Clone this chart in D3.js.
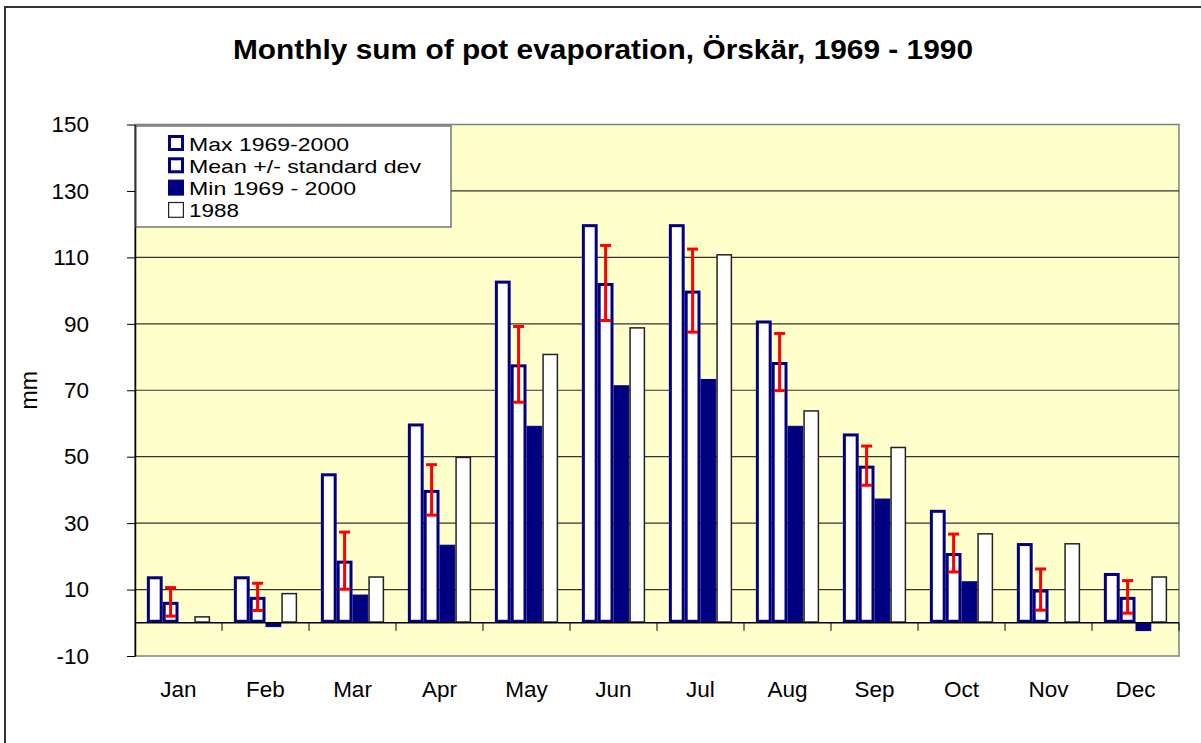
<!DOCTYPE html>
<html>
<head>
<meta charset="utf-8">
<script src="https://cdn.jsdelivr.net/npm/d3@7"></script>
<style>
  body { margin: 0; background: #fff; }
  svg { display: block; font-family: "Liberation Sans", Arial, sans-serif; }
</style>
</head>
<body>
<div id="chart"></div>
<script>
// Data
const months = ["Jan", "Feb", "Mar", "Apr", "May", "Jun", "Jul", "Aug", "Sep", "Oct", "Nov", "Dec"];
const maxVals = [14, 14, 45, 60, 103, 120, 120, 91, 57, 34, 24, 15];
const meanVals = [6.3, 7.8, 18.7, 40, 77.8, 102.3, 100, 78.5, 47.3, 21, 10, 7.8];
const stdDev = [4.3, 4.1, 8.6, 7.6, 11.4, 11.3, 12.5, 8.6, 5.9, 5.7, 6.2, 4.9];
const minVals = [0, -1.3, 8.5, 23.5, 59.3, 71.5, 73.4, 59.3, 37.4, 12.5, 0, -2.5];
const vals1988 = [2, 9, 14, 50, 81, 89, 111, 64, 53, 27, 24, 14];
const yTicks = [-10, 10, 30, 50, 70, 90, 110, 130, 150];
const seriesNames = ["Max 1969-2000", "Mean +/- standard dev", "Min 1969 - 2000", "1988"];

const width = 1201, height = 743;
const plot = { left: 135, right: 1179, top: 124.5, bottom: 656 };
const navy = "#000080";

const svg = d3.select("#chart")
  .append("svg")
  .attr("width", width)
  .attr("height", height);

// Outer frame
svg.append("rect")
  .attr("x", 5).attr("y", 7)
  .attr("width", width + 10).attr("height", height + 10)
  .attr("fill", "none")
  .attr("stroke", "#333")
  .attr("stroke-width", 2);

// Title
svg.append("text")
  .attr("x", 233).attr("y", 59)
  .attr("font-size", 27)
  .attr("font-weight", "bold")
  .attr("textLength", 740)
  .attr("lengthAdjust", "spacingAndGlyphs")
  .text("Monthly sum of pot evaporation, Örskär, 1969 - 1990");

// Scales
const x = d3.scaleBand()
  .domain(months)
  .range([plot.left, plot.right])
  .padding(0);

const y = d3.scaleLinear()
  .domain([-10, 150])
  .range([plot.bottom, plot.top]);

// Bars take 4 / 5.5 of each band (Excel gap width 150%)
const barW = x.bandwidth() / 5.5;
const inner = d3.scaleBand()
  .domain(d3.range(4))
  .range([0.75 * barW, 4.75 * barW])
  .padding(0);

// Plot background
svg.append("rect")
  .attr("x", plot.left).attr("y", plot.top)
  .attr("width", plot.right - plot.left)
  .attr("height", plot.bottom - plot.top)
  .attr("fill", "#FFFFCC")
  .attr("stroke", "#808080")
  .attr("stroke-width", 1.5);

// Gridlines
svg.append("g")
  .selectAll("line")
  .data(yTicks.filter(t => t > -10 && t < 150))
  .join("line")
  .attr("x1", plot.left).attr("x2", plot.right)
  .attr("y1", d => y(d)).attr("y2", d => y(d))
  .attr("stroke", "#333")
  .attr("stroke-width", 1.2);

// Bars
const series = [
  { values: maxVals, fill: "#fff", stroke: navy, sw: 3 },
  { values: meanVals, fill: "#fff", stroke: navy, sw: 3 },
  { values: minVals, fill: navy, stroke: navy, sw: 1 },
  { values: vals1988, fill: "#fff", stroke: "#222", sw: 1.5 }
];

series.forEach((s, i) => {
  svg.append("g")
    .selectAll("rect")
    .data(months.map((m, j) => ({ month: m, value: s.values[j] })))
    .join("rect")
    .attr("x", d => x(d.month) + inner(i) + s.sw / 2)
    .attr("width", inner.bandwidth() - s.sw)
    .attr("y", d => Math.min(y(d.value), y(0)) + s.sw / 2)
    .attr("height", d => Math.max(0, Math.abs(y(d.value) - y(0)) - s.sw))
    .attr("fill", s.fill)
    .attr("stroke", d => d.value === 0 ? "none" : s.stroke)
    .attr("stroke-width", s.sw);
});

// Error bars on the mean
const errG = svg.append("g")
  .attr("stroke", "#FF0000")
  .attr("stroke-width", 3);

months.forEach((m, j) => {
  const cx = x(m) + inner(1) + inner.bandwidth() / 2;
  const hi = y(meanVals[j] + stdDev[j]);
  const lo = y(meanVals[j] - stdDev[j]);
  errG.append("line").attr("x1", cx).attr("x2", cx).attr("y1", hi).attr("y2", lo);
  errG.append("line").attr("x1", cx - 5.5).attr("x2", cx + 5.5).attr("y1", hi).attr("y2", hi);
  errG.append("line").attr("x1", cx - 5.5).attr("x2", cx + 5.5).attr("y1", lo).attr("y2", lo);
});

// Y axis
const yAxis = svg.append("g")
  .attr("transform", `translate(${plot.left},0)`)
  .call(d3.axisLeft(y).tickValues(yTicks).tickFormat(d => String(d))
    .tickSize(8).tickPadding(38).tickSizeOuter(0));
yAxis.select(".domain").attr("stroke", "#000").attr("stroke-width", 1.5);
yAxis.selectAll(".tick line").attr("stroke", "#000");
yAxis.selectAll(".tick text")
  .attr("font-size", 22.5)
  .attr("font-family", "Liberation Sans, Arial, sans-serif")
  .attr("fill", "#000");

// X axis at zero, ticks on category boundaries
svg.append("line")
  .attr("x1", plot.left).attr("x2", plot.right)
  .attr("y1", y(0)).attr("y2", y(0))
  .attr("stroke", "#000")
  .attr("stroke-width", 1.5);

svg.append("g")
  .selectAll("line")
  .data(months.slice(1).map(m => x(m)).concat([plot.right]))
  .join("line")
  .attr("x1", d => d).attr("x2", d => d)
  .attr("y1", y(0)).attr("y2", y(0) + 8)
  .attr("stroke", "#000");

svg.append("g")
  .selectAll("text")
  .data(months)
  .join("text")
  .attr("x", d => x(d) + x.bandwidth() / 2)
  .attr("y", 697)
  .attr("text-anchor", "middle")
  .attr("font-size", 22.5)
  .text(d => d);

// Y label
svg.append("text")
  .attr("transform", `translate(37,${(plot.top + plot.bottom) / 2}) rotate(-90)`)
  .attr("text-anchor", "middle")
  .attr("font-size", 23)
  .text("mm");

// Legend
const legend = svg.append("g").attr("transform", "translate(136,126)");
legend.append("rect")
  .attr("width", 315).attr("height", 101)
  .attr("fill", "#fff")
  .attr("stroke", "#555")
  .attr("stroke-width", 1.2);

const legendKeys = [
  { fill: "#fff", stroke: navy, sw: 3, len: 160 },
  { fill: "#fff", stroke: navy, sw: 3, len: 232 },
  { fill: navy, stroke: navy, sw: 1, len: 167 },
  { fill: "#fff", stroke: "#222", sw: 1.2, len: 50 }
];

seriesNames.forEach((name, i) => {
  const row = legend.append("g").attr("transform", `translate(32,${9 + i * 22.3})`);
  const k = legendKeys[i];
  row.append("rect")
    .attr("x", k.sw / 2).attr("y", k.sw / 2)
    .attr("width", 16 - k.sw).attr("height", 16 - k.sw)
    .attr("fill", k.fill)
    .attr("stroke", k.stroke)
    .attr("stroke-width", k.sw);
  row.append("text")
    .attr("x", 21).attr("y", 15.5)
    .attr("font-size", 19)
    .attr("textLength", k.len)
    .attr("lengthAdjust", "spacingAndGlyphs")
    .text(name);
});
</script>
</body>
</html>
